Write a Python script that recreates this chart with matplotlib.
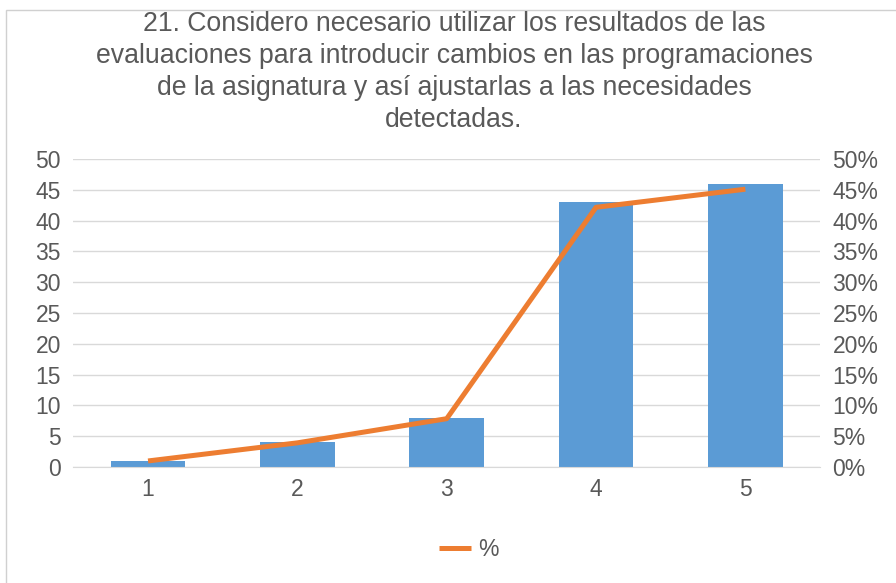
import matplotlib
matplotlib.use("Agg")
import matplotlib.pyplot as plt
from matplotlib.patches import Rectangle
from matplotlib.ticker import FuncFormatter

categories = ["1", "2", "3", "4", "5"]
counts = [1, 4, 8, 43, 46]
percents = [c / sum(counts) * 100 for c in counts]
left_ticks = [0, 5, 10, 15, 20, 25, 30, 35, 40, 45, 50]
right_ticks = [0, 5, 10, 15, 20, 25, 30, 35, 40, 45, 50]

title = ("21. Considero necesario utilizar los resultados de las\n"
         "evaluaciones para introducir cambios en las programaciones\n"
         "de la asignatura y así ajustarlas a las necesidades\n"
         "detectadas.")

BAR = "#5B9BD5"
LINE = "#ED7D31"
TEXT = "#595959"
GRID = "#D9D9D9"

plt.rcParams["font.family"] = ["Liberation Sans", "DejaVu Sans"]

W, H = 896, 583
fig = plt.figure(figsize=(W / 100, H / 100), dpi=100)

# chart frame
fig.patches.append(Rectangle((6 / W, -0.1), 1.2, 1.1 - 10 / H,
                             transform=fig.transFigure, fill=False,
                             edgecolor="#D0D0D0", linewidth=1.0))

ax = fig.add_axes([73.4 / W, 1 - 467 / H, (820 - 73.4) / W, (467 - 159) / H])
x = list(range(len(categories)))
ax.bar(x, counts, width=0.5, color=BAR, zorder=2)
ax.set_xlim(-0.5, len(categories) - 0.5)
ax.set_ylim(0, 50)
ax.set_yticks(left_ticks)
ax.set_xticks(x)
ax.set_xticklabels(categories)
ax.yaxis.grid(True, color=GRID, linewidth=1.0, zorder=0)
ax.set_axisbelow(True)
for s in ax.spines.values():
    s.set_visible(False)
ax.spines["bottom"].set_visible(True)
ax.spines["bottom"].set_color(GRID)
ax.tick_params(axis="both", length=0, colors=TEXT, labelsize=16.5)
ax.tick_params(axis="y", pad=9)
ax.tick_params(axis="x", pad=8)

ax2 = ax.twinx()
line, = ax2.plot(x, percents, color=LINE, linewidth=3.6, solid_capstyle="butt",
                 zorder=3, label="%")
ax2.set_ylim(0, 50)
ax2.set_yticks(right_ticks)
ax2.yaxis.set_major_formatter(FuncFormatter(lambda v, p: f"{int(v)}%"))
for s in ax2.spines.values():
    s.set_visible(False)
ax2.tick_params(axis="y", length=0, colors=TEXT, labelsize=16.5, pad=9)

fig.text(454 / W, 1 - 72 / H, title, ha="center", va="center", fontsize=19.2,
         color=TEXT, linespacing=1.31)

leg = fig.legend(handles=[line], labels=["%"], loc="center",
                 bbox_to_anchor=(469 / W, 1 - 550 / H), frameon=False,
                 fontsize=16.5, handlelength=1.4, handletextpad=0.3)
for t in leg.get_texts():
    t.set_color(TEXT)

fig.savefig("out.png", dpi=100, facecolor="white")
